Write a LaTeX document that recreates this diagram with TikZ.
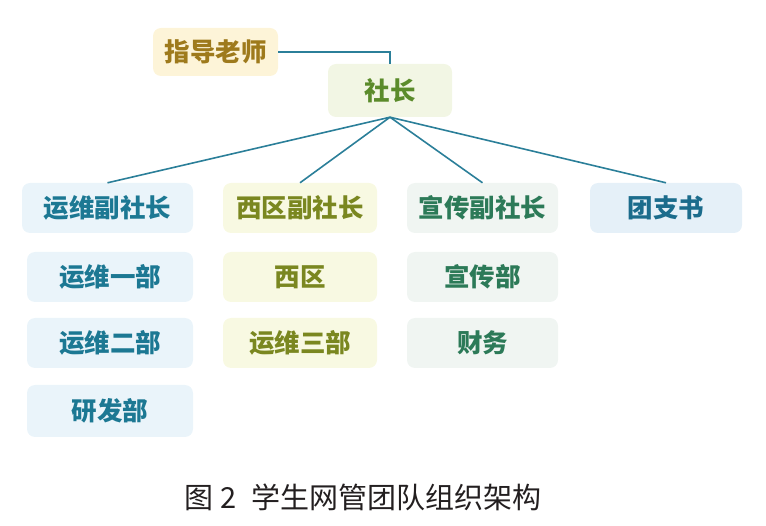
\documentclass[tikz,border=0pt]{standalone}
\usepackage{fontspec}
\newfontfamily\cjk{Noto Sans CJK SC}
\definecolor{lnc}{HTML}{2B7F99}
\definecolor{yfill}{HTML}{FDF4D8}
\definecolor{ytext}{HTML}{9E7A1C}
\definecolor{sfill}{HTML}{F2F6E4}
\definecolor{stext}{HTML}{5B8B2B}
\definecolor{bfill}{HTML}{EAF4FA}
\definecolor{btext}{HTML}{1C7893}
\definecolor{ofill}{HTML}{F8F9E2}
\definecolor{otext}{HTML}{7A8720}
\definecolor{gfill}{HTML}{F0F5F2}
\definecolor{gtext}{HTML}{2C7A58}
\definecolor{tfill}{HTML}{E5F0F8}
\definecolor{ttext}{HTML}{1B6C8C}
\definecolor{captext}{HTML}{231F20}
\tikzset{
  box/.style={rounded corners=8pt, inner sep=0pt, font=\cjk\bfseries\fontsize{25.5}{30}\selectfont},
  yb/.style={box, fill=yfill, text=ytext},
  sb/.style={box, fill=sfill, text=stext},
  bb/.style={box, fill=bfill, text=btext},
  ob/.style={box, fill=ofill, text=otext},
  gb/.style={box, fill=gfill, text=gtext},
  tb/.style={box, fill=tfill, text=ttext},
  link/.style={draw=lnc, line width=1.6pt},
}
\begin{document}
\begin{tikzpicture}[x=1pt,y=-1pt]
\useasboundingbox (0,0) rectangle (766,526);
\node[yb, minimum width=125pt, minimum height=48pt] (zd) at (215.5,52) {指导老师};
\node[sb, minimum width=124pt, minimum height=53pt] (sz) at (390,90.5) {社长};
% row 1
\node[bb, minimum width=171pt, minimum height=50pt] (yw) at (107.5,208) {运维副社长};
\node[ob, minimum width=154pt, minimum height=50pt] (xq) at (300,208) {西区副社长};
\node[gb, minimum width=151pt, minimum height=50pt] (xc) at (482.5,208) {宣传副社长};
\node[tb, minimum width=152pt, minimum height=50pt] (tz) at (666,208) {团支书};
% column 1
\node[bb, minimum width=166pt, minimum height=50pt] (yw1) at (110,277) {运维一部};
\node[bb, minimum width=166pt, minimum height=50pt] (yw2) at (110,343) {运维二部};
\node[bb, minimum width=166pt, minimum height=52pt] (yf) at (110,411) {研发部};
% column 2
\node[ob, minimum width=154pt, minimum height=50pt] (xq1) at (300,277) {西区};
\node[ob, minimum width=154pt, minimum height=50pt] (yw3) at (300,343) {运维三部};
% column 3
\node[gb, minimum width=151pt, minimum height=50pt] (xcb) at (482.5,277) {宣传部};
\node[gb, minimum width=151pt, minimum height=50pt] (cw) at (482.5,343) {财务};
% connectors
\draw[link] (zd.east) -| (sz.north);
\draw[link] (sz.south) -- (yw.north);
\draw[link] (sz.south) -- (xq.north);
\draw[link] (sz.south) -- (xc.north);
\draw[link] (sz.south) -- (tz.north);
% caption
\node[text=captext, font=\cjk\fontsize{29}{32}\selectfont, inner sep=0pt] (cap) at (363,497) {图\hspace{7pt}2\hspace{15pt}学生网管团队组织架构};
\end{tikzpicture}
\end{document}
